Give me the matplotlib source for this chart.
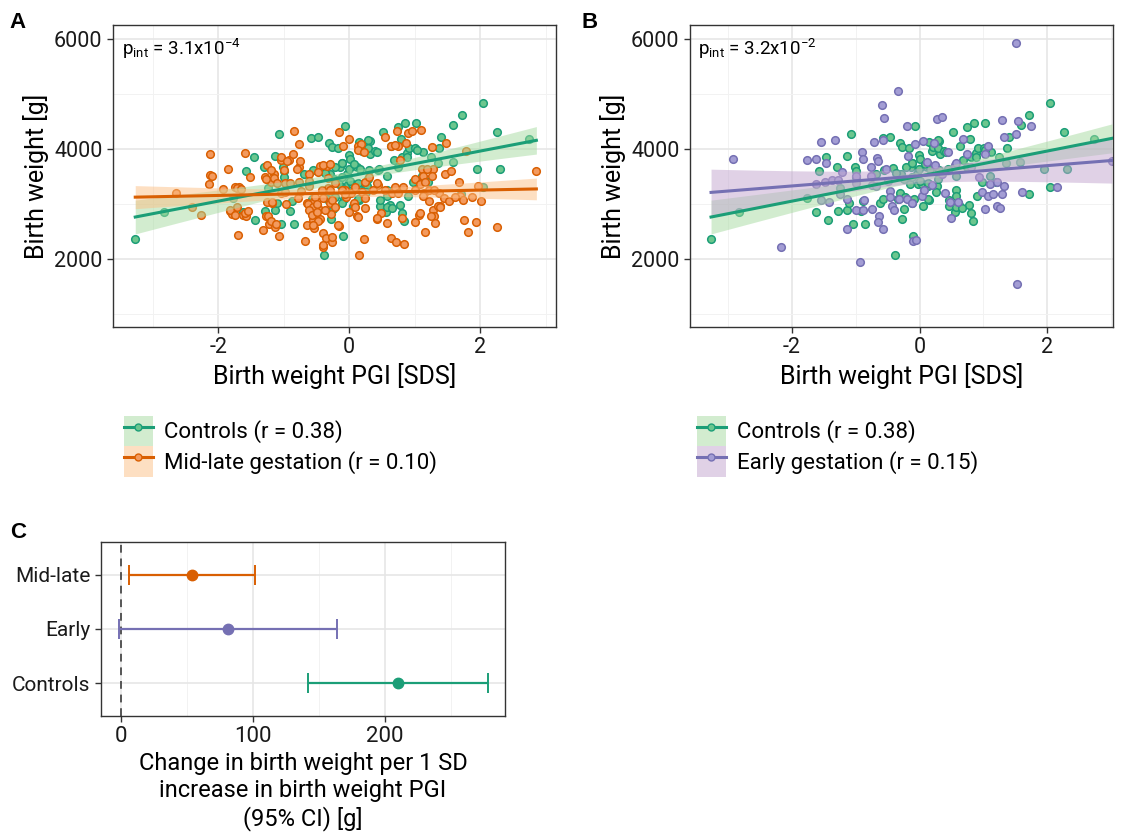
import numpy as np
import matplotlib.pyplot as plt
from matplotlib.patches import Patch
from matplotlib.lines import Line2D
from matplotlib.legend_handler import HandlerTuple
from matplotlib.ticker import FixedLocator

plt.rcParams['font.family'] = ['Roboto', 'DejaVu Sans']
plt.rcParams['mathtext.fontset'] = 'custom'
plt.rcParams['mathtext.rm'] = 'Roboto'
plt.rcParams['mathtext.it'] = 'Roboto'

# colours (Dark2-like)
GREEN, ORANGE, PURPLE = '#1B9E77', '#D95F02', '#7570B3'
GREEN_FILL, ORANGE_FILL, PURPLE_FILL = '#6CC68E', '#F39A5E', '#A39DD4'
GREEN_RIB, ORANGE_RIB, PURPLE_RIB = '#A6DBA0', '#FDC086', '#C2A5CF'

# ---- data ----
# controls (same points in panels A and B)
ctrl_x = [-3.27, -2.83, -1.77, -1.63, -1.44, -1.46, -1.57, -1.30, -1.14, -1.08, -1.28, -1.14,
          -1.11, -1.04, -1.01, -1.00, -0.99, -0.85, -0.91, -0.88, -0.69, -0.58, -0.47, -0.55,
          -0.42, -0.62, -0.57, -0.31, -0.27, -0.17, -0.07, -0.29, -0.31, -0.34, -0.25, -0.28,
          -0.15, -0.14, -0.11, -0.08, -0.10, -0.38, -0.01, -0.04, -0.02, 0.04, 0.01, 0.12,
          0.15, 0.19, 0.21, 0.31, 0.32, 0.29, 0.39, 0.13, 0.15, 0.06, 0.27, 0.26, 0.44, 0.47,
          0.52, 0.56, 0.57, 0.58, 0.62, 0.64, 0.69, 0.74, 0.79, 0.80, 0.85, 0.88, 0.92, 0.77,
          0.81, 0.84, 0.90, 0.98, 1.01, 1.02, 1.11, 1.12, 1.20, 1.25, 1.35, 1.37, 1.41, 1.59,
          1.71, 1.72, 1.58, 1.95, 2.04, 2.04, 2.26, 2.31, 2.74,
          0.29, 0.42, -0.21, -0.11, -0.01, 0.08, 0.17, 0.30, 0.45, 0.57, 0.75, 0.89, 1.03,
          -0.37, -0.24, -0.11, 0.01, 0.14, 0.29, -0.22, -0.11, 0.14, 0.57, 0.66, 0.47, -1.24]
ctrl_y = [2370, 2850, 3110, 2850, 2710, 3850, 3600, 3680, 3870, 4280, 2880, 2900,
          3020, 2630, 3680, 3600, 3490, 2640, 2880, 3060, 3550, 4200, 4220, 3610,
          3660, 3020, 3090, 4100, 4040, 4010, 4420, 3550, 3200, 3090, 2910, 2730,
          3360, 3680, 3750, 3090, 2410, 2080, 3890, 3550, 3360, 3370, 3810, 3680,
          4120, 3960, 4040, 4150, 3900, 4020, 3960, 3320, 3080, 2960, 3320, 3210, 3620, 2970,
          4300, 2850, 3260, 3150, 2990, 4050, 3800, 4400, 4180, 3860, 4480, 3930, 4010, 2990,
          2830, 2690, 3150, 3400, 4020, 4480, 3500, 3950, 3400, 3860, 3750, 4010, 4210, 4430,
          3190, 4620, 3770, 3630, 4830, 3300, 4310, 3640, 4180,
          4160, 3950, 3670, 3740, 3630, 3730, 3630, 3610, 3630, 3510, 3680, 3860, 3980,
          3560, 3450, 3490, 3420, 3380, 3450, 3130, 3020, 3090, 2940, 2920, 3070, 3290]

# mid-late gestation
mid_x = [-2.65, -2.40, -2.27, -2.12, -2.13, -2.09, -2.14, -1.86, -1.82, -1.79, -1.74, -1.70,
         -1.72, -1.68, -1.62, -1.60, -1.57, -1.51, -1.32, -1.28, -1.27, -1.22, -1.20, -1.18,
         -1.15, -1.13, -1.07, -1.05, -1.00, -0.96, -0.92, -0.86, -0.85, -0.79, -0.77, -0.76,
         -0.73, -0.67, -0.64, -0.62, -0.61, -0.57, -0.55, -0.54, -0.45, -0.45, -0.40, -0.40,
         -0.35, -0.34, -0.32, -0.30, -0.28, -0.26, -0.15, -0.16, -0.09, 0.00, -0.06, -0.05,
         0.03, 0.08, 0.12, 0.15, 0.22, 0.14, 0.18, 0.24, 0.30, 0.42, 0.48, 0.44, 0.54, 0.64,
         0.65, 0.64, 0.71, 0.73, 0.74, 0.77, 0.82, 0.84, 0.87, 0.90, 0.96, 1.01, 1.00, 1.09,
         1.07, 1.14, 1.16, 1.22, 1.27, 1.28, 1.28, 1.29, 1.31, 1.37, 1.38, 1.46, 1.48, 1.56,
         1.67, 1.70, 1.75, 1.78, 1.81, 1.88, 1.93, 1.97, 2.01, 2.26, 2.86,
         0.14, 0.22, 0.70, -0.40, -0.29, -0.47, -0.32, -0.22, -0.42, -0.29, -0.11, -0.52,
         -0.40, -0.27, -0.06, 0.09, 0.19, 0.24, 0.37, 0.42, 0.55, 0.70, 0.75, 1.01, -0.47,
         -0.37, -0.22, -0.01, 0.09, 0.14, 0.24, 0.42, 0.57, 0.80, -0.17, -0.27, -0.40,
         -1.93, -1.72, -1.65, -1.82, -1.75, -1.60, -1.55, -1.24, -1.20, -1.12, -1.26, -1.18,
         -1.25, -1.20, -1.27, -1.15, -1.05, -0.95, -1.10, -0.98, -0.90, -0.80, -0.75, -0.76,
         -0.62, -0.63, -0.55, -0.50, -0.62, -0.57, -0.49, -0.47, -0.64, -0.55, -1.05, -0.98,
         1.11, 1.19, 1.13, 1.27, 1.08, 1.16, 1.22, 1.30, 1.12, 1.45, 1.53, 1.62, 1.74, 1.08,
         1.35, 1.39, 1.25]
mid_y = [3205, 2950, 2800, 3915, 3520, 3500, 3360, 3640, 2870, 2815, 3300, 2435,
         2950, 3300, 2800, 3930, 2785, 3485, 2535, 3485, 2780, 2645, 3405, 3025,
         3545, 2585, 2415, 3800, 3620, 3000, 3800, 3905, 4335, 3100, 4090, 3680,
         3240, 2335, 3010, 3330, 3545, 3010, 2705, 2555, 3695, 2720, 2465, 2220,
         2390, 3690, 3285, 3010, 2810, 2315, 4310, 2605, 4055, 4175, 3255, 3120,
         3195, 3010, 2780, 2075, 2355, 4055, 4090, 3400, 3495, 2720, 2830, 3345, 4225, 4055,
         3195, 2390, 2315, 4335, 4055, 3800, 3315, 2280, 4105, 4295, 4330, 3450, 2675, 4345,
         2800, 3195, 2495, 3055, 4030, 3635, 2900, 2780, 2660, 3195, 2970, 3545, 4105, 3605,
         3395, 3150, 2705, 3970, 2490, 3120, 2675, 3330, 3060, 2585, 3605,
         3980, 3950, 4075, 3710, 3725, 3590, 3465, 3375, 3255, 3255, 3255, 3135,
         3105, 3075, 3180, 3315, 3225, 3105, 3255, 3375, 3255, 3315, 3195, 3255, 2920,
         2890, 2950, 2860, 2950, 2770, 2920, 2740, 2650, 2740, 2620, 2405, 2255,
         3265, 3295, 3265, 2900, 2800, 2830, 2880, 2780, 2700, 2640, 3040, 3040,
         3700, 3620, 3450, 3480, 3850, 3790, 3380, 3385, 3390, 3640, 3780, 3400,
         3420, 3000, 2950, 3000, 2900, 2800, 2850, 2700, 2620, 2610, 3200, 3210,
         3635, 3635, 3515, 3515, 3360, 3400, 3250, 3250, 3140, 3100, 3060, 3130, 3080, 2830,
         2960, 2940, 2780]

# early gestation
early_x = [-2.93, -2.18, -1.76, -1.62, -1.55, -1.46, -1.32, -1.22, -1.63, -1.48, -1.37, -1.28,
           -1.55, -1.42, -1.24, -1.13, -1.13, -0.99, -0.99, -0.90, -0.89, -0.93, -0.99, -0.89,
           -0.87, -0.76, -0.75, -0.72, -0.67, -0.65, -0.59, -0.55, -0.34, -0.58, -0.76, -0.75,
           -0.68, -0.64, -0.65, -0.57, -0.52, -0.49, -0.46, -0.46, -0.43, -0.40, -0.32, -0.20,
           -0.18, -0.20, -0.12, -0.10, -0.06, -0.07, 0.05, 0.04, 0.07, 0.11, 0.20, 0.22, 0.27,
           0.36, 0.25, 0.36, 0.40, 0.48, 0.45, 0.50, 0.60, 0.56, 0.58, 0.69, 0.74, 0.80, 0.93,
           0.98, 1.02, 1.02, 1.07, 1.08, 1.11, 1.15, 1.21, 1.21, 1.26, 1.29, 1.30, 1.33, 1.32,
           1.52, 1.53, 1.54, 1.52, 1.60, 1.75, 2.16, 3.02]
early_y = [3810, 2220, 3800, 3820, 4130, 3750, 4170, 3580, 3360, 3400, 3430, 3440,
           3080, 3030, 3180, 2540, 3090, 3500, 3380, 3950, 3810, 1950, 2900, 2900,
           3080, 3670, 2910, 4120, 3840, 3790, 4800, 4570, 5060, 4160, 3510, 3340,
           3320, 2790, 2670, 2540, 3640, 3420, 3230, 3120, 2960, 2900, 3090, 4420,
           3870, 3090, 3020, 2320, 2350, 4090, 4150, 3150, 3260, 3770, 3340, 4100, 4540,
           4590, 3700, 3550, 3200, 3030, 3950, 2740, 3030, 3700, 3750, 4180, 3900, 3680, 3490,
           3220, 2910, 3910, 4050, 3140, 3370, 3190, 3400, 2970, 2930, 4520, 3180, 3320, 4210,
           5930, 1540, 4510, 4270, 3220, 4420, 3310, 3790]

# forest plot (panel C)
forest_groups = ['Controls', 'Early', 'Mid-late']
forest_est = [210, 81, 54]
forest_lo = [142, -1.5, 6]
forest_hi = [278, 164, 102]
forest_cols = [GREEN, PURPLE, ORANGE]


def fit_band(x, y, xs):
    x = np.asarray(x, float)
    y = np.asarray(y, float)
    b, a = np.polyfit(x, y, 1)
    n = len(x)
    s = np.sqrt(np.sum((y - (a + b * x)) ** 2) / (n - 2))
    sxx = np.sum((x - x.mean()) ** 2)
    se = s * np.sqrt(1 / n + (xs - x.mean()) ** 2 / sxx)
    yh = a + b * xs
    return yh, yh - 1.97 * se, yh + 1.97 * se


def style_axes(ax):
    for sp in ax.spines.values():
        sp.set_color('#333333')
        sp.set_linewidth(1.0)
    ax.tick_params(which='major', length=4, width=1, color='#333333',
                   labelsize=15.5, labelcolor='#1a1a1a')
    ax.tick_params(which='minor', length=0)
    ax.grid(which='major', color='#E6E6E6', lw=1.2)
    ax.grid(which='minor', color='#F2F2F2', lw=0.7)
    ax.set_axisbelow(True)


def scatter_panel(ax, groups, xlim, ptext):
    allx = np.concatenate([g[0] for g in groups])
    xs = np.linspace(min(allx), max(allx), 100)
    for x, y, col, fill, rib in groups:
        ax.scatter(x, y, s=30, facecolor=fill, edgecolor=col, linewidth=1.1, zorder=2)
    for x, y, col, fill, rib in groups:
        yh, lo, hi = fit_band(x, y, xs)
        ax.fill_between(xs, lo, hi, color=rib, alpha=0.5, lw=0, zorder=3)
        ax.plot(xs, yh, color=col, lw=2.2, zorder=4)
    ax.set_xlim(*xlim)
    ax.set_ylim(764, 6254)
    ax.xaxis.set_major_locator(FixedLocator([-2, 0, 2]))
    ax.xaxis.set_minor_locator(FixedLocator([-3, -1, 1, 3]))
    ax.yaxis.set_major_locator(FixedLocator([2000, 4000, 6000]))
    ax.yaxis.set_minor_locator(FixedLocator([1000, 3000, 5000]))
    ax.set_xticklabels(['-2', '0', '2'])
    style_axes(ax)
    ax.set_xlabel('Birth weight PGI [SDS]', fontsize=18, labelpad=3)
    ax.set_ylabel('Birth weight [g]', fontsize=18, labelpad=4)
    ax.text(0.02, 0.96, ptext, transform=ax.transAxes, fontsize=13.5,
            va='top', ha='left', zorder=5)


fig = plt.figure(figsize=(11.21, 8.35), dpi=100)
W, H = 1121, 835
axA = fig.add_axes([113 / W, 1 - 327 / H, 443 / W, 302 / H])
axB = fig.add_axes([690 / W, 1 - 327 / H, 423 / W, 302 / H])
axC = fig.add_axes([101 / W, 1 - 716 / H, 404 / W, 174 / H])

scatter_panel(axA, [(np.array(ctrl_x), np.array(ctrl_y), GREEN, GREEN_FILL, GREEN_RIB),
                    (np.array(mid_x), np.array(mid_y), ORANGE, ORANGE_FILL, ORANGE_RIB)],
              (-3.61, 3.16), r'p$_{\mathrm{int}}$ = 3.1x10$^{\mathrm{-4}}$')
scatter_panel(axB, [(np.array(ctrl_x), np.array(ctrl_y), GREEN, GREEN_FILL, GREEN_RIB),
                    (np.array(early_x), np.array(early_y), PURPLE, PURPLE_FILL, PURPLE_RIB)],
              (-3.60, 3.035), r'p$_{\mathrm{int}}$ = 3.2x10$^{\mathrm{-2}}$')


def key(col, fill, rib):
    return (Patch(facecolor=rib, alpha=0.5, edgecolor='none'),
            Line2D([], [], color=col, lw=2.2, marker='o', markersize=5,
                   markerfacecolor=fill, markeredgecolor=col))


for labels, keys, x0 in [
        (['Controls (r = 0.38)', 'Mid-late gestation (r = 0.10)'],
         [key(GREEN, GREEN_FILL, GREEN_RIB), key(ORANGE, ORANGE_FILL, ORANGE_RIB)], 124),
        (['Controls (r = 0.38)', 'Early gestation (r = 0.15)'],
         [key(GREEN, GREEN_FILL, GREEN_RIB), key(PURPLE, PURPLE_FILL, PURPLE_RIB)], 697)]:
    fig.legend(keys, labels, loc='upper left', bbox_to_anchor=(x0 / W, 1 - 416 / H),
               bbox_transform=fig.transFigure, frameon=False, fontsize=16,
               handlelength=1.3, handleheight=1.72, labelspacing=0, handletextpad=0.5,
               borderpad=0, borderaxespad=0,
               handler_map={tuple: HandlerTuple(ndivide=1, pad=0)})

# panel C
ypos = np.arange(1, len(forest_groups) + 1)
axC.axvline(0, color='#555555', lw=1.4, ls=(0, (4, 3)), zorder=2)
for i in range(len(forest_groups)):
    axC.errorbar(forest_est[i], ypos[i],
                 xerr=[[forest_est[i] - forest_lo[i]], [forest_hi[i] - forest_est[i]]],
                 fmt='o', color=forest_cols[i], markersize=7.5, elinewidth=1.6,
                 capsize=7.5, capthick=1.4, zorder=3)
axC.set_ylim(0.4, 3.6)
axC.set_xlim(-15, 291)
axC.set_yticks(ypos)
axC.set_yticklabels(forest_groups)
axC.xaxis.set_major_locator(FixedLocator([0, 100, 200]))
axC.xaxis.set_minor_locator(FixedLocator([50, 150, 250]))
style_axes(axC)
axC.tick_params(axis='y', labelsize=15)
axC.tick_params(axis='x', labelsize=16)
axC.set_xlabel('Change in birth weight per 1 SD\nincrease in birth weight PGI\n(95% CI) [g]',
               fontsize=17, linespacing=1.22, labelpad=3)

for lab, x, y in [('A', 18, 22), ('B', 590, 22), ('C', 18, 532)]:
    fig.text(x / W, 1 - y / H, lab, fontsize=16, fontweight='bold',
             family='Liberation Sans', ha='center', va='center')

fig.savefig('out.png', dpi=100)
